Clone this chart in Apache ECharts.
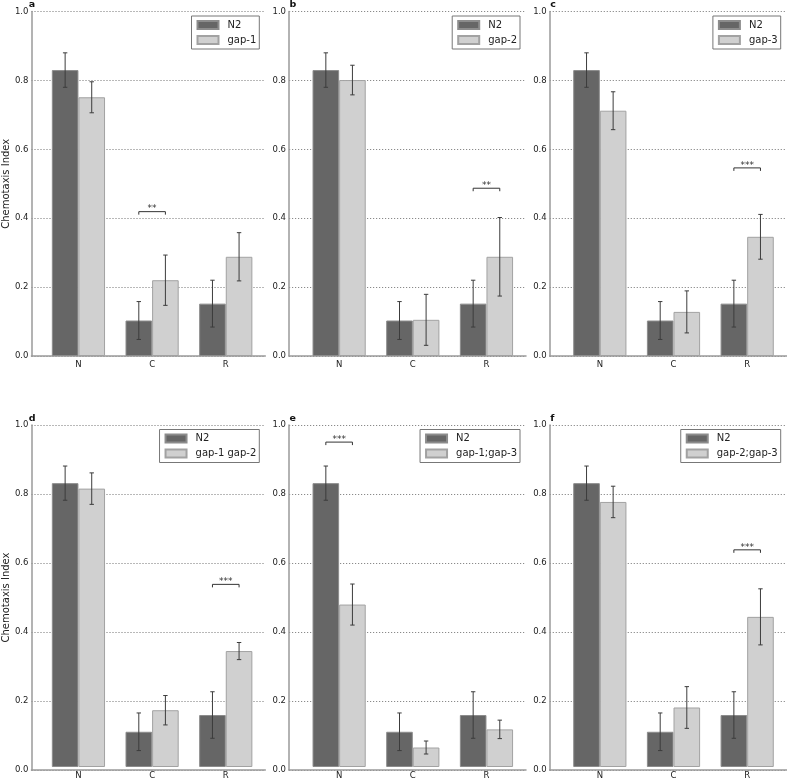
<!DOCTYPE html>
<html><head><meta charset="utf-8">
<script src="https://cdn.jsdelivr.net/npm/echarts@6/dist/echarts.min.js"></script>
<style>html,body{margin:0;padding:0;background:#fff}#c{width:787px;height:780px}</style>
</head><body><div id="c"></div>
<script>
// ---------- data ----------
const categories = ['N', 'C', 'R'];
const panelLetters = ['a', 'b', 'c', 'd', 'e', 'f'];
const yTicks = [0.0, 0.2, 0.4, 0.6, 0.8, 1.0];
const yAxisTitle = 'Chemotaxis Index';

const controlName = 'N2';
const controlValues = [0.830, 0.103, 0.152];
const controlErrors = [0.050, 0.055, 0.068];

const mutantNames = ['gap-1', 'gap-2', 'gap-3', 'gap-1 gap-2', 'gap-1;gap-3', 'gap-2;gap-3'];
const gap1Values = [0.751, 0.220, 0.288];
const gap1Errors = [0.045, 0.073, 0.070];
const gap2Values = [0.801, 0.105, 0.288];
const gap2Errors = [0.043, 0.074, 0.114];
const gap3Values = [0.712, 0.128, 0.346];
const gap3Errors = [0.055, 0.061, 0.065];
const gap1gap2Values = [0.814, 0.166, 0.339];
const gap1gap2Errors = [0.046, 0.043, 0.025];
const gap1gap3Values = [0.475, 0.057, 0.110];
const gap1gap3Errors = [0.060, 0.019, 0.027];
const gap2gap3Values = [0.775, 0.174, 0.439];
const gap2gap3Errors = [0.046, 0.061, 0.082];

const mutantValues = [gap1Values, gap2Values, gap3Values, gap1gap2Values, gap1gap3Values, gap2gap3Values];
const mutantErrors = [gap1Errors, gap2Errors, gap3Errors, gap1gap2Errors, gap1gap3Errors, gap2gap3Errors];

const sigCategory = ['C', 'R', 'R', 'R', 'N', 'R'];
const sigLabels = ['**', '**', '***', '***', '***', '***'];
const sigHeights = [0.419, 0.487, 0.546, 0.534, 0.950, 0.635];

// ---------- layout ----------
const W = 787;
const colLeft = [28.3, 289, 549.7];
const rowTop = [11.5, 425];
const rowHeight = [344.5, 345];
const frameWidth = 237;
const barsInset = 13.3;
const barsWidth = 221;
const barW = 26.6;
const FONT = 'DejaVu Sans';

const grid = [], xAxis = [], yAxis = [], series = [], legend = [], graphic = [];

function errRender(params, api) {
  const k = api.value(0), v = api.value(1), e = api.value(2), side = api.value(3);
  const top = api.coord([k, v + e]);
  const bot = api.coord([k, v - e]);
  const x = top[0] + side * barW / 2;
  const st = { stroke: '#3c3c3c', lineWidth: 1 };
  return { type: 'group', children: [
    { type: 'line', shape: { x1: x, y1: top[1], x2: x, y2: bot[1] }, style: st },
    { type: 'line', shape: { x1: x - 2.2, y1: top[1], x2: x + 2.2, y2: top[1] }, style: st },
    { type: 'line', shape: { x1: x - 2.2, y1: bot[1], x2: x + 2.2, y2: bot[1] }, style: st }
  ]};
}

function sigRender(labels) {
  return function (params, api) {
    const k = api.value(0), h = api.value(1);
    const p = api.coord([k, h]);
    const x1 = p[0] - barW / 2, x2 = p[0] + barW / 2, y = p[1];
    return { type: 'group', children: [
      { type: 'polyline', shape: { points: [[x1, y + 3], [x1, y], [x2, y], [x2, y + 3]] },
        style: { stroke: '#333', lineWidth: 1, fill: null } },
      { type: 'text', x: p[0], y: y + 2,
        style: { text: labels[params.dataIndex], font: '9px ' + FONT, fill: '#333',
                 align: 'center', verticalAlign: 'bottom' } }
    ]};
  };
}

for (let i = 0; i < 6; i++) {
  const r = Math.floor(i / 3), c = i % 3;
  const fg = 2 * i, bg = 2 * i + 1;
  grid.push({ left: colLeft[c], top: rowTop[r], width: frameWidth, height: rowHeight[r] });
  grid.push({ left: colLeft[c] + barsInset, top: rowTop[r], width: barsWidth, height: rowHeight[r] });

  xAxis.push({ gridIndex: fg, type: 'value', min: 0, max: 1,
    axisLine: { show: true, onZero: false, lineStyle: { color: '#9a9a9a', width: 1.5 } },
    axisTick: { show: false }, axisLabel: { show: false }, splitLine: { show: false } });
  xAxis.push({ gridIndex: bg, type: 'category', data: categories,
    axisLine: { show: false }, axisTick: { show: false },
    axisLabel: { fontSize: 8.5, color: '#222', margin: 4, fontFamily: FONT } });

  yAxis.push({ gridIndex: fg, type: 'value', min: yTicks[0], max: yTicks[yTicks.length - 1],
    interval: 0.2,
    name: c === 0 ? yAxisTitle : '', nameLocation: 'middle', nameGap: 18,
    nameTextStyle: { fontSize: 10, color: '#222', fontFamily: FONT },
    axisLine: { show: true, lineStyle: { color: '#9a9a9a', width: 1.5 } },
    axisTick: { show: false },
    axisLabel: { fontSize: 8.5, color: '#222', margin: 3, fontFamily: FONT,
      formatter: v => v.toFixed(1) },
    splitLine: { show: true, lineStyle: { type: [1.2, 1.8], color: '#8a8a8a', width: 1 } } });
  yAxis.push({ gridIndex: bg, type: 'value', min: 0, max: 1, show: false });

  series.push({ type: 'bar', name: controlName, xAxisIndex: bg, yAxisIndex: bg,
    data: controlValues, barWidth: barW, barGap: '0%', z: 2,
    itemStyle: { color: '#666666', borderColor: '#8c8c8c', borderWidth: 1 }, silent: true });
  series.push({ type: 'bar', name: mutantNames[i], xAxisIndex: bg, yAxisIndex: bg,
    data: mutantValues[i], barWidth: barW, barGap: '0%', z: 2,
    itemStyle: { color: '#d0d0d0', borderColor: '#a2a2a2', borderWidth: 1 }, silent: true });

  const errData = [];
  categories.forEach((cat, k) => {
    errData.push([k, controlValues[k], controlErrors[k], -1]);
    errData.push([k, mutantValues[i][k], mutantErrors[i][k], 1]);
  });
  series.push({ type: 'custom', xAxisIndex: bg, yAxisIndex: bg, z: 5, silent: true,
    renderItem: errRender, data: errData, encode: { x: 0, y: 1 } });

  series.push({ type: 'custom', xAxisIndex: bg, yAxisIndex: bg, z: 5, silent: true,
    renderItem: sigRender([sigLabels[i]]),
    data: [[categories.indexOf(sigCategory[i]), sigHeights[i]]], encode: { x: 0, y: 1 } });

  legend.push({ data: [controlName, mutantNames[i]], orient: 'vertical',
    right: W - (colLeft[c] + 231), top: rowTop[r] + 4.5,
    itemWidth: 21, itemHeight: 8, itemGap: 3, icon: 'rect',
    padding: [3, 3, 3, 5], borderColor: '#777', borderWidth: 1, selectedMode: false,
    textStyle: { fontSize: 10, color: '#222', fontFamily: FONT, padding: [0, 0, 0, 4], lineHeight: 12 } });

  graphic.push({ type: 'text', left: colLeft[c] + 0.5, top: rowTop[r] - 11.5 + (r === 0 ? 0 : 0.5),
    style: { text: panelLetters[i], font: 'bold 9.5px ' + FONT, fill: '#111' } });
}

const chart = echarts.init(document.getElementById('c'), null, { renderer: 'canvas' });
chart.setOption({
  animation: false,
  backgroundColor: '#fff',
  textStyle: { fontFamily: FONT },
  grid, xAxis, yAxis, series, legend, graphic
});
</script>
</body></html>
